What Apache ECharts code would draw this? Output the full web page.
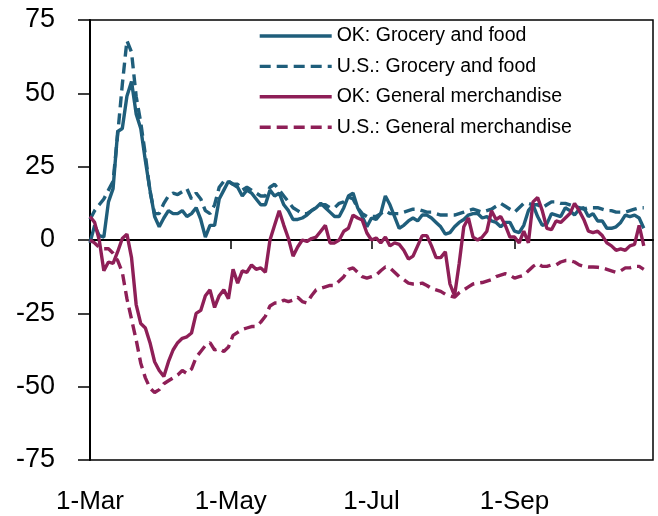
<!DOCTYPE html>
<html><head><meta charset="utf-8">
<script src="https://cdn.jsdelivr.net/npm/echarts@6/dist/echarts.min.js"></script>
<style>html,body{margin:0;padding:0;background:#fff}#c{width:658px;height:516px}</style>
</head><body><div id="c"></div>
<script>
// Calendar: daily categories from 1-Mar to 31-Oct (2020)
const monthNames = ['Jan','Feb','Mar','Apr','May','Jun','Jul','Aug','Sep','Oct','Nov','Dec'];
const firstDay = Date.UTC(2020, 2, 1);
const lastDay = Date.UTC(2020, 9, 31);
const days = [];
for (let t = firstDay; t <= lastDay; t += 86400000) {
  const d = new Date(t);
  days.push(d.getUTCDate() + '-' + monthNames[d.getUTCMonth()]);
}
const tickLabels = ['1-Mar', '1-May', '1-Jul', '1-Sep'];

// Values read every 2nd day starting 1-Mar (121 samples, to ~27-Oct)
const sampleStepDays = 2;
const seriesNames = ['OK: Grocery and food', 'U.S.: Grocery and food', 'OK: General merchandise', 'U.S.: General merchandise'];

const okGrocery = [
  -1, 5, 1.5, 1, 13, 17.5, 37, 38, 49, 54,
  43, 38, 27, 17, 8, 4.5, 7.5, 10, 9, 9,
  10, 8, 9, 11, 7, 1, 5, 5, 14, 17,
  20, 19, 18, 15, 17, 16, 14, 12, 12, 17,
  15, 16, 12, 10, 7, 7, 7.5, 8.5, 10, 11,
  12.5, 11, 9.5, 8, 8, 11, 15, 16, 11, 8,
  4.5, 7.5, 7, 9, 15, 12, 8, 4, 5, 6.5,
  7.5, 6.5, 8.5, 8.5, 7.5, 6, 4.5, 2, 2.5, 4.5,
  6, 7, 8.5, 9, 9, 7.5, 8, 6.5, 6, 4.5,
  6, 6, 3, 2.5, 5, 10, 12, 8, 5, 5.5,
  9, 8.5, 8, 11, 10, 8.5, 10.5, 11, 8, 9,
  6.5, 6.5, 4, 4, 4.5, 6, 8.5, 8, 8.5, 7.5,
  4
];
const usGrocery = [
  7, 10, 12, 14, 17, 20, 36, 53, 68, 64,
  49, 40, 29, 16.5, 9, 9, 12.5, 15, 16, 15.5,
  16.5, 17.5, 14, 16, 14, 10, 9, 12, 18, 20,
  20, 19, 19, 17, 18, 17, 16, 15, 15, 18,
  19, 17, 15, 13, 11, 10, 9, 9, 10, 11,
  12, 12, 11, 11, 12.5, 13, 14.7, 14, 11, 9,
  8, 8, 8, 9, 10, 9, 9, 9, 9.5, 10,
  10.5, 10.5, 10, 9.5, 9.5, 9, 8.5, 8.5, 8.5, 8.5,
  9, 9.5, 10, 10.5, 10, 9.5, 10, 10.5, 11.5, 12.5,
  11.5, 10.5, 9.5, 11, 12.5, 12.5, 12, 12, 11, 12,
  13, 13, 12.5, 12.5, 12, 11.5, 11, 10.5, 11, 11,
  11, 10.5, 10, 10, 9.5, 9.5, 9.5, 10, 10.5, 11,
  11
];
const okMerch = [
  8, 6, 0, -10.5, -7.5, -8, -4, 0.5, 2, -6,
  -22, -28.5, -30, -35, -41.5, -44.5, -46.5, -41.5, -37.5, -35,
  -33.5, -33, -31.7, -25, -24, -19, -17, -23, -19, -17,
  -20, -10, -14.7, -10.5, -11, -8.5, -10, -9.5, -11, 0,
  5, 10, 5, 0.5, -5.5, -2.4, 0, -0.5, 0.5, 1,
  3, 5, -1, -1, 0, 3, 4, 8.5, 7.5, 6.8,
  2.4, 0, 0.7, -1, 1, -2, -1, -1.5, -3.5, -6.5,
  -5.5, -2, 1.5, 1.5, -2, -6, -6, -4, -15, -19,
  -8, 4.5, 7.5, 1, 0, 1, 3, 10, 7, 8,
  5, 1, 1, -1, 3, -1, 13, 14.5, 10, 4,
  3.5, 6.5, 6, 7.5, 9, 12.5, 10, 7, 3, 2.5,
  3, 1.5, -1, -2, -3.5, -3, -3.5, -2, -1.5, 5,
  -2
];
const usMerch = [
  0, -1, -2.5, -3, -3, -4.5, -7, -11, -20, -27,
  -34, -42, -47, -50.5, -52, -51, -49, -48, -47, -46,
  -44.5, -45.5, -44, -40, -38, -36, -35, -37.5, -37, -38,
  -36.5, -32.5, -31.5, -30.5, -30, -29.5, -29.5, -28, -26, -22.5,
  -21.5, -21.5, -20.5, -21, -20.5, -19.5, -21, -21.5, -19, -17,
  -16.5, -16, -15.5, -15.5, -14, -12.5, -10, -9.5, -11, -12.5,
  -13, -12.5, -12, -10.5, -9.2, -9.5, -11, -12.5, -13.5, -14.7,
  -15, -15, -14.7, -15.5, -16.5, -17, -17.5, -18.5, -19, -19.5,
  -18, -17, -16, -15, -14.7, -14.5, -14, -13.5, -12.5, -12,
  -11.5, -12, -13, -12.5, -12, -10.5, -9, -8, -9, -9,
  -8.5, -8.5, -7.5, -7, -7, -7.5, -8.5, -9, -9.2, -9.2,
  -9.3, -9.5, -10, -10.5, -11, -10.5, -9.5, -9.5, -9, -9,
  -10
];
const yTicks = { min: -75, max: 75, interval: 25 };

const teal = '#1F5E7B';
const maroon = '#8E1F57';
const axisFont = "'Liberation Sans', Arial, sans-serif";

function toDaily(values) {
  const out = days.map(() => null);
  values.forEach((v, i) => { out[i * sampleStepDays] = v; });
  return out;
}
const isTick = (idx, val) => tickLabels.indexOf(val) >= 0;

const styles = [
  { color: teal, type: 'solid' },
  { color: teal, type: [11, 6] },
  { color: maroon, type: 'solid' },
  { color: maroon, type: [11, 6] }
];
const valueSets = [okGrocery, usGrocery, okMerch, usMerch];

const chart = echarts.init(document.getElementById('c'), null, { renderer: 'canvas' });
chart.setOption({
  animation: false,
  backgroundColor: '#fff',
  grid: { left: 90, right: 5, top: 20, bottom: 56, containLabel: false, outerBoundsMode: 'none',
          show: true, borderColor: '#000', borderWidth: 1.5, backgroundColor: 'transparent' },
  legend: {
    data: seriesNames,
    orient: 'vertical',
    left: 258, top: 25, padding: 0,
    itemWidth: 72, itemHeight: 14, itemGap: 8.4,
    itemStyle: { opacity: 0 },
    lineStyle: { width: 3.4 },
    textStyle: { fontSize: 19.5, fontFamily: axisFont, color: '#000', lineHeight: 22 }
  },
  xAxis: [
    {
      type: 'category', data: days, boundaryGap: false,
      axisLine: { onZero: true, lineStyle: { color: '#000', width: 2 } },
      axisTick: { show: true, interval: isTick, length: 9, lineStyle: { color: '#000', width: 1.5 } },
      axisLabel: { show: false },
      splitLine: { show: false }
    },
    {
      type: 'category', data: days, boundaryGap: false, position: 'bottom',
      axisLine: { show: false, onZero: false },
      axisTick: { show: false },
      axisLabel: { show: true, interval: isTick, margin: 29, fontSize: 26, fontFamily: axisFont, color: '#000' },
      splitLine: { show: false }
    }
  ],
  yAxis: {
    type: 'value', min: yTicks.min, max: yTicks.max, interval: yTicks.interval,
    axisLine: { show: true, onZero: false, lineStyle: { color: '#000', width: 2 } },
    axisTick: { show: true, length: 12, lineStyle: { color: '#000', width: 1.5 } },
    axisLabel: { margin: 35, fontSize: 27, fontFamily: axisFont, color: '#000' },
    splitLine: { show: false }
  },
  series: seriesNames.map((name, i) => ({
    name, type: 'line', xAxisIndex: 0, data: toDaily(valueSets[i]),
    connectNulls: true, symbol: 'none', showSymbol: false,
    lineStyle: { color: styles[i].color, width: 3.4, type: styles[i].type },
    itemStyle: { color: styles[i].color }
  }))
});
</script>
</body></html>
